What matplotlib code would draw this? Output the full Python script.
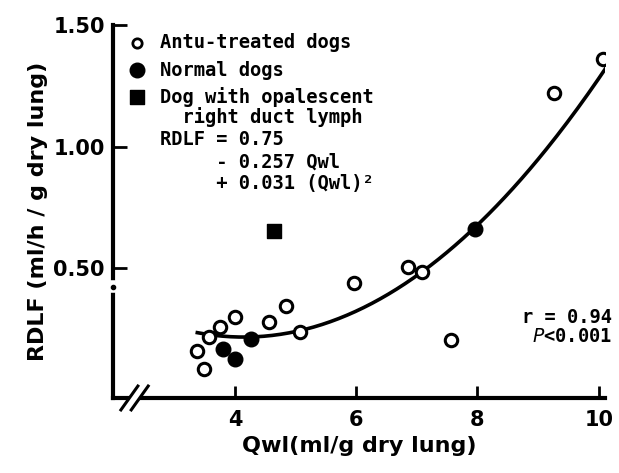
import numpy as np
import matplotlib
matplotlib.use("Agg")
import matplotlib.pyplot as plt

# values
antu_qwl = [3.37, 3.49, 3.57, 3.76, 4.00, 4.56, 4.85, 5.07, 5.96, 6.86, 7.09, 7.56, 9.27, 10.07]
antu_rdlf = [0.16, 0.086, 0.218, 0.26, 0.30, 0.279, 0.345, 0.24, 0.44, 0.504, 0.484, 0.205, 1.22, 1.36]
normal_qwl = [3.80, 4.00, 4.27, 7.96]
normal_rdlf = [0.17, 0.127, 0.21, 0.663]
opal_qwl = [4.64]
opal_rdlf = [0.653]

# regression from the figure
b0, b1, b2 = 0.75, -0.257, 0.031
curve_range = (3.38, 10.2)

xticks = [4, 6, 8, 10]
yticks = [0.50, 1.00, 1.50]
ytick_labels = ["0.50", "1.00", "1.50"]

mono = "DejaVu Sans Mono"

fig = plt.figure(figsize=(6.19, 4.73), dpi=100)
ax = fig.add_axes([0.1826, 0.1586, 0.7944, 0.7885])

q = np.linspace(curve_range[0], curve_range[1], 200)
ax.plot(q, b0 + b1 * q + b2 * q ** 2, color="black", lw=2.6, zorder=2)

ax.scatter(antu_qwl, antu_rdlf, s=80, facecolor="white", edgecolor="black", linewidth=2.2, zorder=3)
ax.scatter(normal_qwl, normal_rdlf, s=110, color="black", zorder=4)
ax.scatter(opal_qwl, opal_rdlf, s=110, marker="s", color="black", zorder=4)

ax.set_xlim(1.99, 10.1)
ax.set_ylim(-0.033, 1.5)

for s in ["top", "right"]:
    ax.spines[s].set_visible(False)
for s in ["left", "bottom"]:
    ax.spines[s].set_linewidth(3)

ax.set_xticks(xticks)
ax.set_xticklabels([str(t) for t in xticks], fontsize=15, fontweight="bold")
ax.set_yticks(yticks)
ax.set_yticklabels(ytick_labels, fontsize=15, fontweight="bold")
ax.tick_params(axis="x", direction="in", length=9, width=2, pad=9)
ax.tick_params(axis="y", direction="in", length=10, width=2, pad=6)

ax.set_xlabel("Qwl(ml/g dry lung)", fontsize=16, fontweight="bold", labelpad=4)
ax.set_ylabel("RDLF (ml/h / g dry lung)", fontsize=16, fontweight="bold", labelpad=4)

# axis break marks
ax.fill([2.12, 2.29, 2.57, 2.40], [-0.082, -0.082, 0.016, 0.016], color="white",
        clip_on=False, zorder=5)
ax.plot([2.12, 2.40], [-0.082, 0.016], color="black", lw=2.2, clip_on=False, zorder=6)
ax.plot([2.29, 2.57], [-0.082, 0.016], color="black", lw=2.2, clip_on=False, zorder=6)
ax.plot([1.99, 1.99], [0.41, 0.44], color="white", lw=4, clip_on=False, zorder=5)
ax.plot([1.99], [0.425], marker="o", ms=3, color="black", clip_on=False, zorder=6)

# legend block
ax.scatter([0.048], [0.952], transform=ax.transAxes, s=45, facecolor="white",
           edgecolor="black", linewidth=2, clip_on=False)
ax.scatter([0.048], [0.879], transform=ax.transAxes, s=110, color="black", clip_on=False)
ax.scatter([0.048], [0.808], transform=ax.transAxes, s=100, marker="s", color="black",
           clip_on=False)
txt_kw = dict(transform=ax.transAxes, fontsize=13.5, family=mono, fontweight="bold",
              ha="left")
ax.text(0.096, 0.952, "Antu-treated dogs", va="center", **txt_kw)
ax.text(0.096, 0.879, "Normal dogs", va="center", **txt_kw)
ax.text(0.096, 0.835, "Dog with opalescent\n  right duct lymph", va="top",
        linespacing=1.05, **txt_kw)
ax.text(0.096, 0.718, "RDLF = 0.75\n     - 0.257 Qwl\n     + 0.031 (Qwl)²", va="top",
        linespacing=1.2, **txt_kw)

ax.text(1.015, 0.19, "r = 0.94\n$P$<0.001", transform=ax.transAxes, fontsize=13.5,
        family=mono, fontweight="bold", va="center", ha="right", linespacing=1.05)

fig.savefig("out.png", dpi=100)
